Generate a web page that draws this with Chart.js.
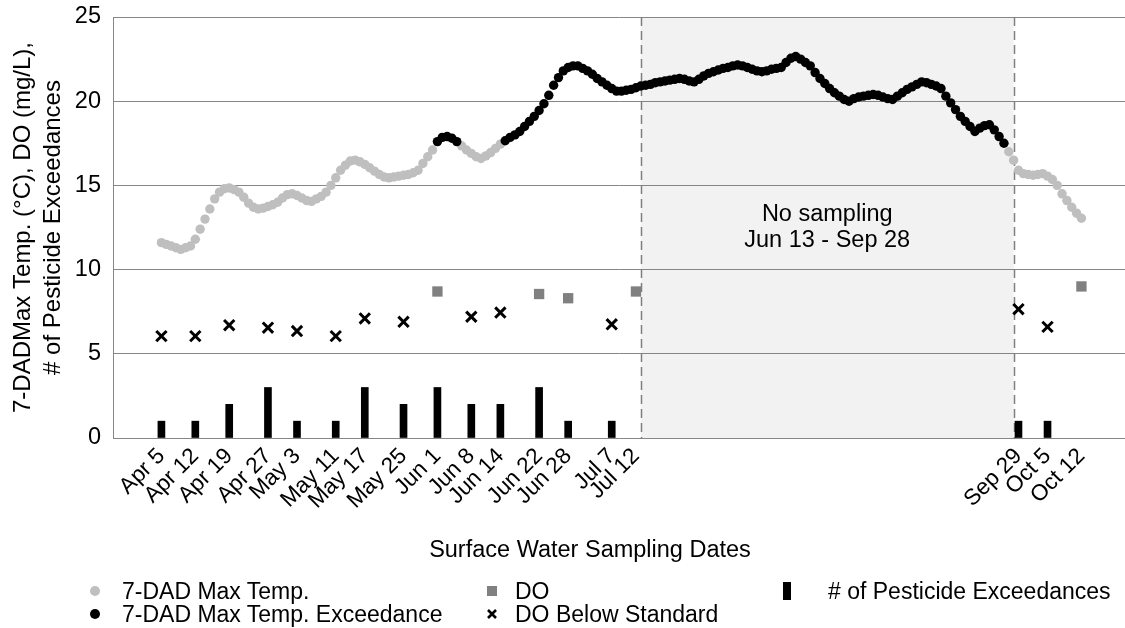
<!DOCTYPE html>
<html><head><meta charset="utf-8">
<script src="https://cdn.jsdelivr.net/npm/chart.js@4.4.1/dist/chart.umd.min.js"></script>
<style>
html,body{margin:0;padding:0;background:#fff;}
#wrap{position:relative;width:1125px;height:628px;overflow:hidden;font-family:"Liberation Sans",Arial,sans-serif;color:#000;}
canvas{position:absolute;left:0;top:0;}
#xtitle{position:absolute;left:0;width:1180px;top:536px;text-align:center;font-size:23.5px;line-height:26px;}
.leg{position:absolute;font-size:23px;line-height:24px;white-space:nowrap;}
.mk{position:absolute;}
</style></head><body>
<div id="wrap"><canvas id="c" width="1125" height="628"></canvas>
<div id="xtitle">Surface Water Sampling Dates</div>
<div id="legend"></div>
</div>
<script>
// ---- data ----
const sampleDates = ['Apr 5','Apr 12','Apr 19','Apr 27','May 3','May 11','May 17','May 25','Jun 1','Jun 8','Jun 14','Jun 22','Jun 28','Jul 7','Jul 12','Sep 29','Oct 5','Oct 12'];
const pesticideExceedances = [1,1,2,3,1,1,3,2,3,2,2,3,1,1,null,1,1,null];
const doValues =        [null,null,null,null,null,null,null,null,8.7,null,null,8.55,8.3,null,8.7,null,null,9.0];
const doBelowStandard = [6.05,6.05,6.7,6.55,6.35,6.05,7.1,6.9,null,7.2,7.45,null,null,6.75,null,7.65,6.6,null];
const tempStart = 'Apr 5';
const tempMax = [11.6,11.5,11.4,11.3,11.2,11.3,11.4,11.8,12.4,13.0,
 13.6,14.2,14.6,14.8,14.85,14.75,14.6,14.3,13.95,13.7,
 13.6,13.65,13.75,13.85,14.0,14.25,14.45,14.5,14.4,14.25,
 14.1,14.05,14.2,14.35,14.6,15.0,15.45,15.9,16.2,16.45,
 16.5,16.4,16.25,16.05,15.85,15.65,15.5,15.45,15.5,15.55,
 15.6,15.65,15.75,15.9,16.3,16.7,17.1,17.6,17.85,17.9,
 17.8,17.6,17.35,17.1,16.9,16.7,16.6,16.75,16.95,17.2,
 17.45,17.65,17.85,18.0,18.2,18.5,18.8,19.1,19.45,19.85,
 20.35,20.95,21.4,21.8,22.0,22.1,22.1,21.95,21.8,21.6,
 21.35,21.15,20.95,20.75,20.6,20.6,20.65,20.7,20.8,20.9,
 20.95,21.0,21.1,21.15,21.2,21.25,21.3,21.35,21.3,21.2,
 21.15,21.3,21.5,21.65,21.75,21.85,21.95,22.0,22.1,22.15,
 22.1,22.0,21.9,21.8,21.75,21.8,21.9,21.95,22.0,22.3,
 22.55,22.65,22.5,22.3,22.1,21.7,21.35,21.05,20.75,20.5,
 20.3,20.1,20.0,20.15,20.25,20.3,20.35,20.4,20.35,20.25,
 20.15,20.1,20.3,20.5,20.7,20.85,21.0,21.15,21.1,21.0,
 20.9,20.75,20.3,19.9,19.5,19.1,18.8,18.5,18.2,18.4,
 18.55,18.6,18.3,17.9,17.5,17.0,16.5,15.9,15.7,15.65,
 15.6,15.65,15.7,15.55,15.35,15.0,14.5,14.1,13.7,13.35,
 13.05];
const tempExceedRanges = [['Jun 1','Jun 5'],['Jun 15','Sep 26']];
const noSampling = ['Jul 13','Sep 28'];
const noSamplingLabel = ['No sampling','Jun 13 - Sep 28'];
const axisRange = ['Mar 26','Oct 21'];
const yTicks = [0,5,10,15,20,25];
const yTitle = ['7-DADMax Temp. (°C), DO (mg/L),','# of Pesticide Exceedances'];

// ---- helpers ----
const MON = {Jan:0,Feb:1,Mar:2,Apr:3,May:4,Jun:5,Jul:6,Aug:7,Sep:8,Oct:9,Nov:10,Dec:11};
function doy(s){const [m,d]=s.split(' ');return (Date.UTC(2021,MON[m],+d)-Date.UTC(2021,0,1))/86400000;}
const t0 = doy(tempStart);
const exR = tempExceedRanges.map(r=>[doy(r[0]),doy(r[1])]);
const isEx = x => exR.some(r=>x>=r[0]&&x<=r[1]);
const tempGray=[], tempBlack=[];
tempMax.forEach((v,i)=>{const x=t0+i;(isEx(x)?tempBlack:tempGray).push({x,y:v});});
const pick = arr => sampleDates.map((s,i)=>arr[i]==null?null:{x:doy(s),y:arr[i]}).filter(Boolean);
const FONT = '"Liberation Sans", Arial, sans-serif';

const gapPlugin = {
  id:'gap',
  beforeDraw(chart){
    const {ctx, chartArea:a, scales:{x}} = chart;
    const x0=x.getPixelForValue(doy(noSampling[0])), x1=x.getPixelForValue(doy(noSampling[1]));
    ctx.save(); ctx.fillStyle='#f2f2f2'; ctx.fillRect(x0,a.top,x1-x0,a.bottom-a.top); ctx.restore();
  },
  beforeDatasetsDraw(chart){
    const {ctx, chartArea:a, scales:{x,y}} = chart;
    const x0=x.getPixelForValue(doy(noSampling[0])), x1=x.getPixelForValue(doy(noSampling[1]));
    ctx.save();
    ctx.strokeStyle='#7f7f7f'; ctx.lineWidth=1.5; ctx.setLineDash([9,5]);
    [x0,x1].forEach(px=>{ctx.beginPath();ctx.moveTo(Math.round(px)+0.5,a.top);ctx.lineTo(Math.round(px)+0.5,a.bottom);ctx.stroke();});
    ctx.setLineDash([]);
    ctx.fillStyle='#000'; ctx.font='23.5px '+FONT; ctx.textAlign='center'; ctx.textBaseline='middle';
    const cx=(x0+x1)/2;
    ctx.fillText(noSamplingLabel[0],cx,y.getPixelForValue(13.3));
    ctx.fillText(noSamplingLabel[1],cx,y.getPixelForValue(11.75));
    ctx.restore();
  }
};

const chart = new Chart(document.getElementById('c'),{
  type:'scatter',
  data:{datasets:[
    {label:'7-DAD Max Temp. Exceedance',data:tempBlack,pointRadius:4.7,pointHoverRadius:4.7,backgroundColor:'#000',borderWidth:0,showLine:false,order:1},
    {label:'7-DAD Max Temp.',data:tempGray,pointRadius:4.7,pointHoverRadius:4.7,backgroundColor:'#bfbfbf',borderWidth:0,showLine:false,order:2},
    {label:'DO',data:pick(doValues),pointStyle:'rect',pointRadius:7.3,backgroundColor:'#808080',borderWidth:0,showLine:false,order:3},
    {label:'DO Below Standard',data:pick(doBelowStandard),pointStyle:'crossRot',pointRadius:7.3,borderColor:'#000',borderWidth:3,showLine:false,order:4},
    {type:'bar',label:'# of Pesticide Exceedances',data:pick(pesticideExceedances),backgroundColor:'#000',barThickness:7,order:5}
  ]},
  options:{
    responsive:false,animation:false,devicePixelRatio:1,
    layout:{autoPadding:false,padding:{top:17,left:0,right:0,bottom:0}},
    plugins:{legend:{display:false},tooltip:{enabled:false}},
    scales:{
      x:{type:'linear',offset:false,min:doy(axisRange[0]),max:doy(axisRange[1]),
        grid:{display:false,offset:false},border:{display:false},
        afterBuildTicks:s=>{s.ticks=sampleDates.map(d=>({value:doy(d)}));},
        afterFit:s=>{s.height=190;s.paddingLeft=0;s.paddingRight=0;},
        ticks:{autoSkip:false,maxRotation:45,minRotation:45,padding:-3,color:'#000',font:{family:FONT,size:22.5},
          callback:(v,i)=>sampleDates[i]}},
      y:{min:0,max:25,
        afterBuildTicks:s=>{s.ticks=yTicks.map(v=>({value:v}));},
        afterFit:s=>{s.width=113;s.paddingTop=0;s.paddingBottom=0;},
        grid:{color:'#868686',lineWidth:1,drawTicks:false},
        border:{color:'#868686',width:1},
        ticks:{padding:12,color:'#000',font:{family:FONT,size:23.5}},
        title:{display:true,text:yTitle,color:'#000',font:{family:FONT,size:24,lineHeight:1.25},padding:{top:8,bottom:0}}}
    }
  },
  plugins:[gapPlugin]
});

// ---- HTML legend built from datasets ----
const legendLayout = {
  '7-DAD Max Temp.':{col:0,row:0},'7-DAD Max Temp. Exceedance':{col:0,row:1},
  'DO':{col:1,row:0},'DO Below Standard':{col:1,row:1},'# of Pesticide Exceedances':{col:2,row:0}
};
const colMk=[95,492,787], colTx=[122,515,828], rowY=[591,614];
const lg=document.getElementById('legend');
chart.data.datasets.forEach(ds=>{
  const p=legendLayout[ds.label]; const cx=colMk[p.col], cy=rowY[p.row];
  let mk='';
  if(ds.type==='bar') mk=`<div class="mk" style="left:${cx-4}px;top:${cy-9}px;width:8px;height:18px;background:${ds.backgroundColor}"></div>`;
  else if(ds.pointStyle==='rect') mk=`<div class="mk" style="left:${cx-5}px;top:${cy-5}px;width:10px;height:10px;background:${ds.backgroundColor}"></div>`;
  else if(ds.pointStyle==='crossRot') mk=`<svg class="mk" style="left:${cx-6}px;top:${cy-6}px" width="12" height="12"><path d="M2 2L10 10M10 2L2 10" stroke="#000" stroke-width="2.6"/></svg>`;
  else mk=`<div class="mk" style="left:${cx-5}px;top:${cy-5}px;width:10px;height:10px;border-radius:50%;background:${ds.backgroundColor}"></div>`;
  lg.insertAdjacentHTML('beforeend',mk+`<div class="leg" style="left:${colTx[p.col]}px;top:${cy-12}px">${ds.label}</div>`);
});
</script>
</body></html>
